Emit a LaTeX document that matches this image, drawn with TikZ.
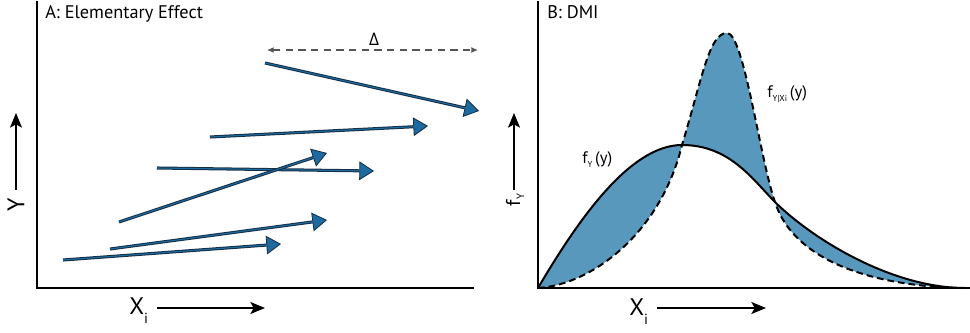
\documentclass[tikz,border=0pt]{standalone}
\usepackage{fontspec}
\setmainfont{PT Sans}
\newfontfamily\grk{Open Sans}
\usetikzlibrary{arrows.meta}
\definecolor{ablue}{RGB}{28,106,160}
\definecolor{adark}{RGB}{22,46,68}
\definecolor{fillblue}{RGB}{88,152,189}
\definecolor{dgray}{RGB}{85,85,85}
\begin{document}
\begin{tikzpicture}[x=0.75pt,y=-0.75pt,
  axis/.style={line width=1.5pt,black,line cap=rect},
  dirarrow/.style={line width=1.2pt,black,-{Stealth[length=11pt,width=9pt,inset=2.5pt]}},
  effect/.style={line width=2.3pt,draw=adark,-{Triangle[length=11pt,width=14pt,fill=ablue,line width=0.6pt]}},
  effectcore/.style={line width=0.8pt,draw=ablue,shorten >=10pt},
  deltaarrow/.style={line width=0.9pt,dgray,dash pattern=on 5.5pt off 4pt,{Latex[length=5pt,width=4.5pt]}-{Latex[length=5pt,width=4.5pt]}},
  titletext/.style={font=\fontsize{13.7}{13.7}\selectfont,inner sep=0pt,anchor=base west},
  bigtext/.style={font=\fontsize{18}{18}\selectfont,inner sep=0pt},
  curvelabel/.style={font=\fontsize{12.5}{12.5}\selectfont,inner sep=0pt,anchor=base west},
  solidcurve/.style={line width=1.5pt,black},
  dashedcurve/.style={line width=1.5pt,black,dash pattern=on 5pt off 3pt}
]
\useasboundingbox (0,0) rectangle (970,332);

% ---------------- Panel A ----------------
\node[titletext] (titleA) at (45,18) {A: Elementary Effect};

\coordinate (d1) at (267,50);
\coordinate (d2) at (478,50);
\draw[deltaarrow] (d1) -- (d2);
\node[inner sep=0pt,anchor=base] (delta) at (374,45) {\grk\fontsize{13}{13}\selectfont Δ};

\coordinate (e1s) at (265,63);  \coordinate (e1e) at (479,111);
\coordinate (e2s) at (210,137); \coordinate (e2e) at (428,126);
\coordinate (e3s) at (157,168); \coordinate (e3e) at (374,171);
\coordinate (e4s) at (119,222); \coordinate (e4e) at (327,153);
\coordinate (e5s) at (110,249); \coordinate (e5e) at (327,220);
\coordinate (e6s) at (63,260);  \coordinate (e6e) at (281,244);
\foreach \i in {1,...,6}{
  \draw[effect] (e\i s) -- (e\i e);
  \draw[effectcore] (e\i s) -- (e\i e);
}

\coordinate (a0) at (37,2);
\coordinate (a1) at (37,288);
\coordinate (a2) at (473,288);
\draw[axis] (a0) -- (a1) -- (a2);

\node[bigtext,rotate=90] (ylab) at (16,205) {Y};
\coordinate (ya1) at (16,190);
\coordinate (ya2) at (16,113);
\draw[dirarrow] (ya1) -- (ya2);

\node[bigtext,anchor=base west] (xlabA) at (129,314) {X\raisebox{-7pt}{\fontsize{11}{11}\selectfont i}};
\coordinate (xa1) at (157,308);
\coordinate (xa2) at (265,308);
\draw[dirarrow] (xa1) -- (xa2);

% ---------------- Panel B ----------------
\node[titletext] (titleB) at (547,18) {B: DMI};

\coordinate (o) at (538,288);
\coordinate (pk) at (682,145);
\coordinate (cr) at (775,202);
\coordinate (ts) at (965,288);
\coordinate (td) at (960,288);
\coordinate (dp) at (727,33);

\fill[fillblue] (o) .. controls (578,220) and (630,145) .. (pk)
  .. controls (730,145) and (753,180) .. (cr)
  .. controls (810,237) and (890,288) .. (ts)
  -- (td) .. controls (850,285) and (790,250) .. (cr)
  .. controls (760,160) and (744,33) .. (dp)
  .. controls (709,33) and (702,79) .. (pk)
  .. controls (660,235) and (590,285) .. (o) -- cycle;

\draw[solidcurve] (o) .. controls (578,220) and (630,145) .. (pk)
  .. controls (730,145) and (753,180) .. (cr)
  .. controls (810,237) and (890,288) .. (ts);
\draw[dashedcurve] (o) .. controls (590,285) and (660,235) .. (pk)
  .. controls (702,79) and (709,33) .. (dp)
  .. controls (744,33) and (760,160) .. (cr)
  .. controls (790,250) and (850,285) .. (td);

\node[curvelabel] (fy) at (582,163) {f\raisebox{-0.5ex}{\fontsize{6.5}{6.5}\selectfont Y}\,(y)};
\node[curvelabel] (fyx) at (767,97) {f\raisebox{-0.5ex}{\fontsize{6.5}{6.5}\selectfont Y|Xi}\,(y)};

\coordinate (b0) at (538,2);
\coordinate (b1) at (538,288);
\coordinate (b2) at (970,288);
\draw[axis] (b0) -- (b1) -- (b2);

\node[font=\fontsize{15}{15}\selectfont,inner sep=0pt,rotate=90] (fylab) at (515,200) {f\raisebox{-0.4ex}{\fontsize{8}{8}\selectfont Y}};
\coordinate (fa1) at (514,190);
\coordinate (fa2) at (514,113);
\draw[dirarrow] (fa1) -- (fa2);

\node[bigtext,anchor=base west] (xlabB) at (629,315) {X\raisebox{-7pt}{\fontsize{11}{11}\selectfont i}};
\coordinate (xb1) at (657,308);
\coordinate (xb2) at (766,308);
\draw[dirarrow] (xb1) -- (xb2);
\end{tikzpicture}
\end{document}
